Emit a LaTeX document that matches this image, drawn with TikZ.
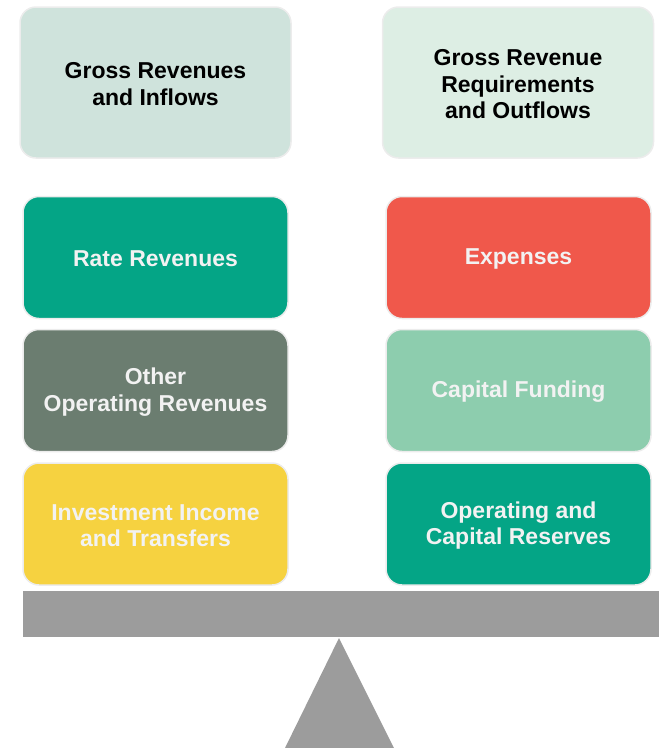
\documentclass[tikz,border=0pt]{standalone}
\usepackage{fontspec}
\setmainfont{Liberation Sans}
\definecolor{headL}{HTML}{CFE3DC}
\definecolor{headR}{HTML}{DDEEE4}
\definecolor{teal}{HTML}{04A586}
\definecolor{slate}{HTML}{6B7D70}
\definecolor{sun}{HTML}{F6D240}
\definecolor{coral}{HTML}{F0584B}
\definecolor{mint}{HTML}{8DCDAE}
\definecolor{beam}{HTML}{9C9C9C}
\definecolor{rim}{HTML}{ECECEC}
\definecolor{paper}{HTML}{F2F2F2}
\tikzset{
  x=1pt, y=-1pt,
  tile/.style={rectangle, rounded corners=16pt, draw=rim, line width=1.5pt, inner sep=0pt},
  headbox/.style={tile, minimum width=271pt, minimum height=151pt},
  itembox/.style={tile, minimum width=265pt, minimum height=122pt},
  caption/.style={inner sep=0pt, align=center, font=\fontsize{23}{26.5}\selectfont\bfseries},
  headtext/.style={caption, text=black},
  itemtext/.style={caption, text=paper},
}
\begin{document}
\begin{tikzpicture}
  \useasboundingbox (0,0) rectangle (659,748);

  % column headings
  \node[headbox, fill=headL] (inflow) at (155.5,82.5) {};
  \node[headbox, fill=headR] (outflow) at (518,82.5) {};
  \node[headtext] (inflowtxt) at ([yshift=-1.5pt]inflow.center) {Gross Revenues\\and Inflows};
  \node[headtext] (outflowtxt) at ([yshift=-2pt]outflow.center) {Gross Revenue\\Requirements\\and Outflows};

  % revenue side
  \node[itembox, fill=teal]  (rate)   at (155.5,257.5) {};
  \node[itembox, fill=slate] (other)  at (155.5,390.5) {};
  \node[itembox, fill=sun]   (invest) at (155.5,524) {};
  \node[itemtext] (ratetxt)   at ([yshift=-1.5pt]rate.center) {Rate Revenues};
  \node[itemtext] (othertxt)  at ([yshift=-1.5pt]other.center) {Other\\Operating Revenues};
  \node[itemtext] (investtxt) at ([yshift=-1.5pt]invest.center) {Investment Income\\and Transfers};

  % requirement side
  \node[itembox, fill=coral] (expense) at (518.5,257.5) {};
  \node[itembox, fill=mint]  (capital) at (518.5,390.5) {};
  \node[itembox, fill=teal]  (reserve) at (518.5,524) {};
  \node[itemtext] (expensetxt) at ([yshift=-1.5pt]expense.center) {Expenses};
  \node[itemtext] (capitaltxt) at ([yshift=-1.5pt]capital.center) {Capital Funding};
  \node[itemtext] (reservetxt) at ([yshift=-1.5pt]reserve.center) {Operating and\\Capital Reserves};

  % balance beam and fulcrum
  \fill[beam] (23,591) rectangle (659,637);
  \fill[beam] (339,638) -- (394,748) -- (285,748) -- cycle;
\end{tikzpicture}
\end{document}
